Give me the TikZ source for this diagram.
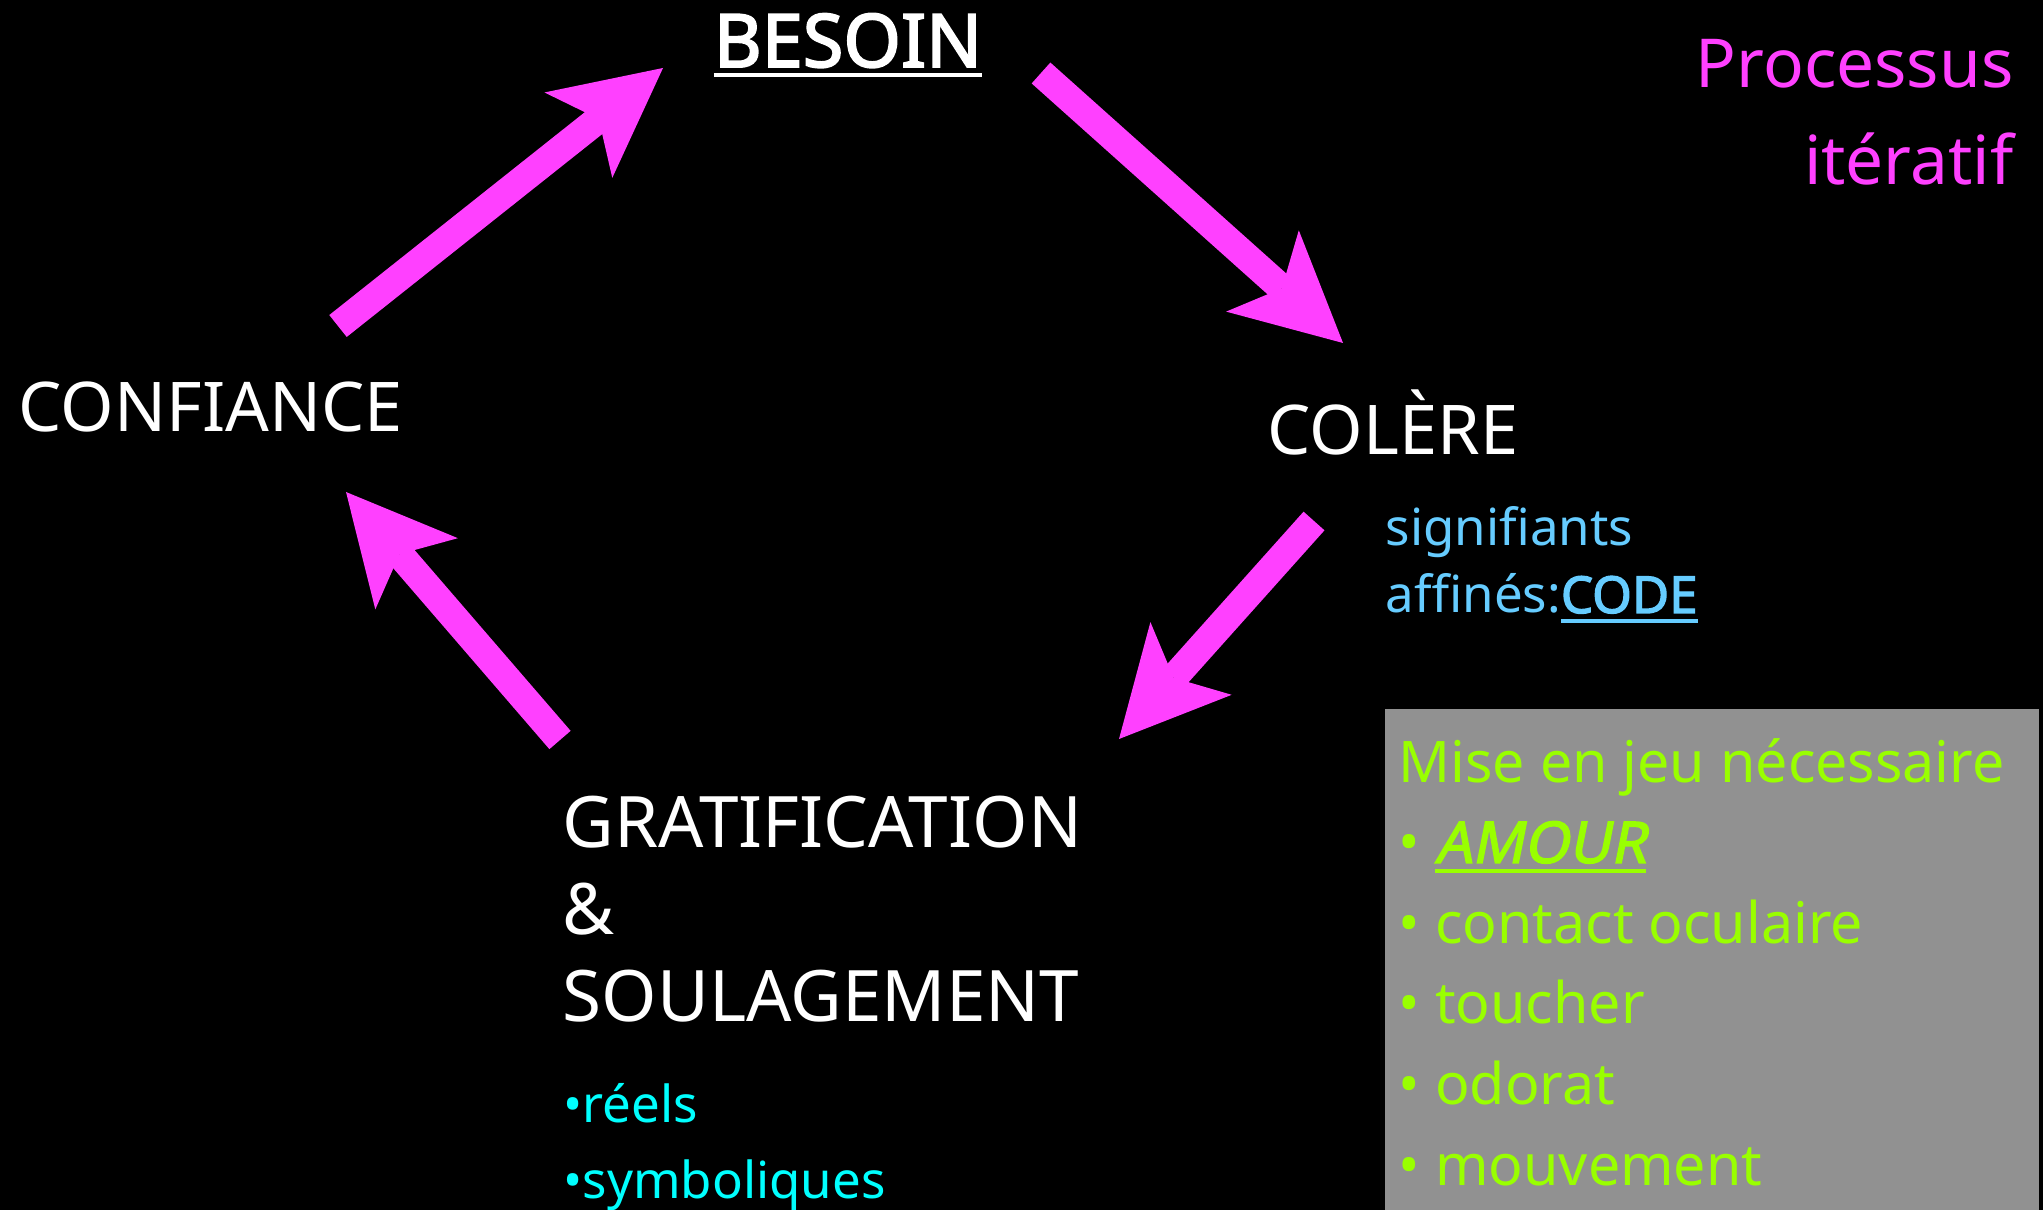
\documentclass[tikz,border=0pt]{standalone}
\usepackage{fontspec}
\setmainfont{Noto Sans}
\newfontfamily\grasfont{Noto Sans}[FakeBold=2.5]
\newfontfamily\grasitfont{Noto Sans}[FakeBold=2.5, FakeSlant=0.2]
\usepackage{xcolor}
\usepackage{tikz}
\usetikzlibrary{positioning,arrows.meta,calc}

\definecolor{rose}{RGB}{255,64,255}
\definecolor{bleuclair}{RGB}{102,204,255}
\definecolor{turquoise}{RGB}{0,255,255}
\definecolor{vertpomme}{RGB}{153,255,0}
\definecolor{grisfond}{RGB}{145,145,145}

\newcommand{\souligne}[1]{\setbox0\hbox{#1}\rlap{\rule[-2.8pt]{\wd0}{1.1pt}}\box0}

\begin{document}
\begin{tikzpicture}[x=0.01cm, y=-0.01cm,
    etape/.style={text=white, inner sep=0pt, anchor=base west, align=left,
                  font=\fontsize{19.5}{24.6}\selectfont},
    note/.style={inner sep=0pt, anchor=base west, align=left},
    fleche/.style={rose, line width=0.28cm,
                   -{Stealth[length=1.08cm, width=1.09cm, inset=0.26cm, line width=0pt]}}]
    % Black slide
    \fill[black] (0,0) rectangle (2043,1210);
    \useasboundingbox (0,0) rectangle (2043,1210);

    % Grey panel
    \fill[grisfond] (1385,709) rectangle (2039,1210);

    % The four stages (base = last line)
    \node[etape, anchor=base, font=\fontsize{21}{24}\grasfont] (besoin) at (848,67) {\souligne{BESOIN}};
    \node[etape] (confiance) at (18,432) {CONFIANCE};
    \node[etape] (colere) at (1267,455) {COLÈRE};
    \node[etape, font=\fontsize{20.2}{24.6}\selectfont] (gratif) at (562,1021) {GRATIFICATION\\\&\\SOULAGEMENT};

    % Notes
    \node[note, anchor=base east, align=right, text=rose,
          font=\fontsize{19.2}{27.6}\selectfont] (processus) at (2014,185) {Processus\\itératif};
    \node[note, text=bleuclair, font=\fontsize{14.5}{19.3}\selectfont] (code) at (1385,613)
        {signifiants\\affinés:{\grasfont\souligne{CODE}}};
    \node[note, text=turquoise, font=\fontsize{14.5}{21.6}\selectfont] (sortes) at (563,1198)
        {•réels\\•symboliques};
    \node[note, text=vertpomme, font=\fontsize{16.3}{22.9}\selectfont] (jeu) at (1398,1185)
        {Mise en jeu nécessaire\\• {\grasitfont\souligne{AMOUR}}\\• contact oculaire\\• toucher\\• odorat\\• mouvement};

    % Arrow ends
    \coordinate (t1) at (338,326);  \coordinate (h1) at (663,68);
    \coordinate (t2) at (1041,73);  \coordinate (h2) at (1343,343);
    \coordinate (t3) at (1314,521); \coordinate (h3) at (1119,739);
    \coordinate (t4) at (560,740);  \coordinate (h4) at (346,492);

    % Cycle
    \draw[fleche] (t1) -- (h1);
    \draw[fleche] (t2) -- (h2);
    \draw[fleche] (t3) -- (h3);
    \draw[fleche] (t4) -- (h4);
\end{tikzpicture}
\end{document}
